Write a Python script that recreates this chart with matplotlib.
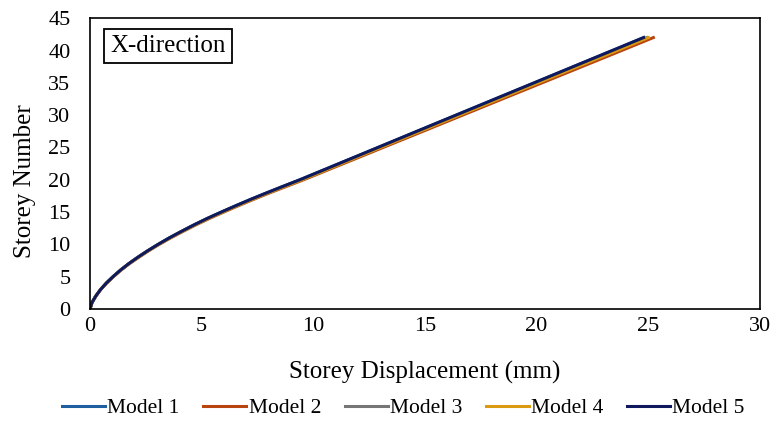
import matplotlib
matplotlib.use("Agg")
from matplotlib import pyplot as plt

# storey levels and displacements (mm)
storeys = [0, 1, 2, 3, 4, 5, 6, 7, 8, 9, 10, 11, 12, 13, 14, 15, 16, 17, 18, 19, 20,
           24, 28, 32, 36, 40, 42]
model_1 = [0, 0.09, 0.26, 0.47, 0.73, 1.03, 1.36, 1.73, 2.14, 2.58, 3.05, 3.55, 4.09, 4.65,
           5.25, 5.89, 6.55, 7.23, 7.94, 8.67, 9.41, 12.21, 15.01, 17.81, 20.61, 23.41, 24.81]
model_2 = [0, 0.09, 0.26, 0.48, 0.74, 1.05, 1.38, 1.76, 2.18, 2.62, 3.10, 3.61, 4.16, 4.73,
           5.34, 5.99, 6.66, 7.35, 8.07, 8.82, 9.57, 12.42, 15.27, 18.11, 20.96, 23.81, 25.23]
model_3 = [0, 0.09, 0.26, 0.47, 0.73, 1.04, 1.37, 1.74, 2.15, 2.59, 3.07, 3.57, 4.11, 4.67,
           5.28, 5.92, 6.58, 7.27, 7.98, 8.71, 9.46, 12.27, 15.09, 17.90, 20.71, 23.53, 24.93]
model_4 = [0, 0.09, 0.26, 0.47, 0.74, 1.04, 1.37, 1.74, 2.16, 2.60, 3.07, 3.58, 4.12, 4.69,
           5.29, 5.94, 6.60, 7.29, 8.00, 8.74, 9.49, 12.31, 15.13, 17.95, 20.77, 23.60, 25.01]
model_5 = [0, 0.09, 0.26, 0.47, 0.73, 1.03, 1.36, 1.73, 2.14, 2.58, 3.05, 3.55, 4.09, 4.65,
           5.24, 5.88, 6.54, 7.22, 7.93, 8.66, 9.40, 12.20, 14.99, 17.79, 20.59, 23.39, 24.79]

labels = ['Model 1', 'Model 2', 'Model 3', 'Model 4', 'Model 5']
colors = ['#1F5FA0', '#B8450F', '#767676', '#DA9B12', '#0F1A5E']
series = [model_1, model_2, model_3, model_4, model_5]

plt.rcParams['font.family'] = ['Liberation Serif', 'DejaVu Serif']

fig = plt.figure(figsize=(7.73, 4.23), dpi=100)
ax = fig.add_axes([0.1164, 0.2695, 0.8666, 0.6875])

for disp, lab, col in zip(series, labels, colors):
    ax.plot(disp, storeys, color=col, linewidth=2.2, label=lab)

ax.set_xlim(0, 30)
ax.set_ylim(0, 45)
ax.set_xticks(range(0, 31, 5))
ax.set_yticks(range(0, 46, 5))
ax.tick_params(length=0, labelsize=16)
ax.tick_params(axis='x', pad=6)
ax.tick_params(axis='y', pad=14)
for sp in ax.spines.values():
    sp.set_linewidth(1.2)
    sp.set_color('black')

ax.set_xlabel('Storey Displacement (mm)', fontsize=18, labelpad=18)
ax.set_ylabel('Storey Number', fontsize=18)
ax.yaxis.set_label_coords(-0.08, 0.44)

ax.text(0.031, 0.904, 'X-direction', transform=ax.transAxes, fontsize=18,
        va='center', ha='left',
        bbox=dict(boxstyle='square,pad=0.25', facecolor='white', edgecolor='black', linewidth=1.3))

fig.legend(loc='center', bbox_to_anchor=(0.522, 0.035), ncol=5, frameon=False,
           fontsize=15.5, handlelength=2.0, handletextpad=0.1, columnspacing=1.1)

fig.savefig('out.png', dpi=100)
